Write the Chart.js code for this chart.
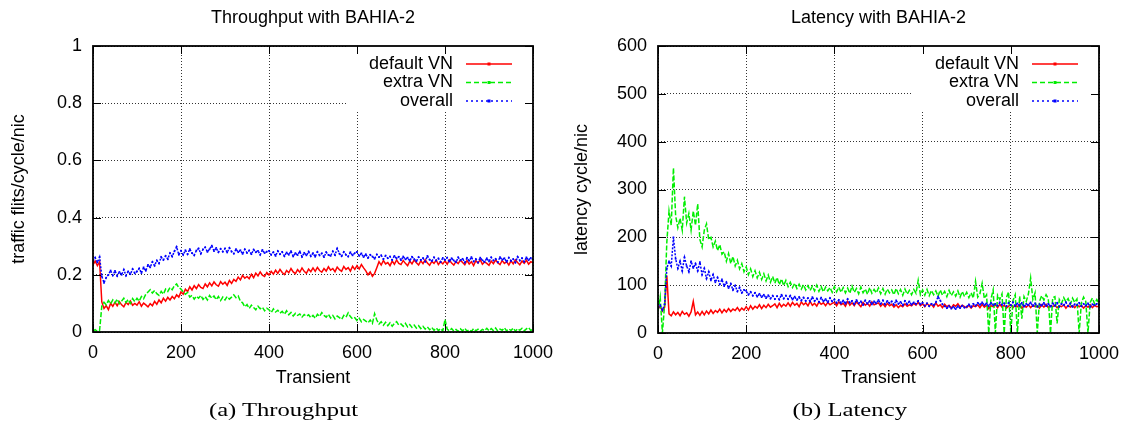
<!DOCTYPE html>
<html><head><meta charset="utf-8">
<script src="https://cdn.jsdelivr.net/npm/chart.js@4.4.1/dist/chart.umd.min.js"></script>
<style>
html,body{margin:0;padding:0;background:#fff;}
#wrap{position:relative;width:1126px;height:423px;overflow:hidden;background:#fff;}
.cv{position:absolute;top:0;width:563px;height:423px;}
.cap{position:absolute;top:401px;font-family:"Liberation Serif","Times New Roman",serif;font-size:18px;line-height:18px;white-space:nowrap;color:#000;transform-origin:center center;}
</style></head><body>
<div id="wrap">
<div class="cv" style="left:0"><canvas id="c1" width="563" height="423"></canvas></div>
<div class="cv" style="left:563px"><canvas id="c2" width="563" height="423"></canvas></div>
<div class="cap" id="cap1">(a) Throughput</div>
<div class="cap" id="cap2">(b) Latency</div>
</div>
<script>
// ---------------- data ----------------
const transientX = [0,5,10,15,20,25,30,35,40,45,50,55,60,65,70,75,80,85,90,95,
100,105,110,115,120,125,130,135,140,145,150,155,160,165,170,175,180,185,190,195,
200,205,210,215,220,225,230,235,240,245,250,255,260,265,270,275,280,285,290,295,
300,305,310,315,320,325,330,335,340,345,350,355,360,365,370,375,380,385,390,395,
400,405,410,415,420,425,430,435,440,445,450,455,460,465,470,475,480,485,490,495,
500,505,510,515,520,525,530,535,540,545,550,555,560,565,570,575,580,585,590,595,
600,605,610,615,620,625,630,635,640,645,650,655,660,665,670,675,680,685,690,695,
700,705,710,715,720,725,730,735,740,745,750,755,760,765,770,775,780,785,790,795,
800,805,810,815,820,825,830,835,840,845,850,855,860,865,870,875,880,885,890,895,
900,905,910,915,920,925,930,935,940,945,950,955,960,965,970,975,980,985,990,995,1000];

const transientTicks = [0,200,400,600,800,1000];
const transientTickLabels = ['0','200','400','600','800','1000'];
const throughputTicks = [0,0.2,0.4,0.6,0.8,1];
const throughputTickLabels = ['0','0.2','0.4','0.6','0.8','1'];
const latencyTicks = [0,100,200,300,400,500,600];
const latencyTickLabels = ['0','100','200','300','400','500','600'];

const seriesLabels = ['default VN','extra VN','overall'];

const throughputDefault = [
0.235,0.248,0.232,0.245,0.105,0.082,0.092,0.078,0.1,0.09,0.104,0.092,0.106,0.095,0.088,0.103,0.096,0.108,0.093,0.1,
0.094,0.106,0.09,0.101,0.095,0.088,0.099,0.092,0.107,0.097,0.112,0.102,0.118,0.108,0.121,0.112,0.124,0.116,0.13,0.122,
0.14,0.132,0.15,0.141,0.158,0.147,0.162,0.152,0.166,0.156,0.152,0.168,0.158,0.172,0.161,0.175,0.165,0.16,0.176,0.167,
0.174,0.163,0.18,0.17,0.184,0.177,0.192,0.182,0.198,0.188,0.194,0.186,0.202,0.19,0.206,0.196,0.21,0.199,0.194,0.208,
0.199,0.212,0.202,0.216,0.205,0.219,0.208,0.201,0.215,0.207,0.222,0.21,0.204,0.218,0.209,0.224,0.212,0.205,0.22,0.211,
0.224,0.212,0.226,0.215,0.209,0.222,0.213,0.228,0.216,0.222,0.211,0.227,0.218,0.212,0.229,0.219,0.225,0.213,0.23,0.219,
0.232,0.22,0.236,0.224,0.214,0.2,0.21,0.195,0.205,0.225,0.246,0.234,0.25,0.238,0.243,0.232,0.248,0.237,0.252,0.24,
0.236,0.25,0.24,0.232,0.248,0.238,0.252,0.242,0.234,0.249,0.239,0.253,0.241,0.233,0.247,0.24,0.251,0.236,0.246,0.238,
0.249,0.237,0.252,0.241,0.234,0.247,0.239,0.251,0.243,0.235,0.25,0.238,0.246,0.232,0.249,0.241,0.253,0.237,0.245,0.24,
0.233,0.248,0.239,0.252,0.242,0.236,0.25,0.24,0.246,0.234,0.249,0.238,0.252,0.243,0.235,0.248,0.24,0.251,0.237,0.246,
0.242];

const throughputExtra = [
0.004,0.008,0.002,0.006,0.09,0.104,0.095,0.11,0.098,0.112,0.101,0.115,0.099,0.108,0.118,0.103,0.114,0.1,0.117,0.106,
0.118,0.108,0.124,0.116,0.132,0.14,0.148,0.136,0.145,0.134,0.128,0.142,0.132,0.15,0.142,0.156,0.148,0.162,0.168,0.155,
0.15,0.14,0.132,0.138,0.122,0.128,0.115,0.125,0.118,0.128,0.114,0.124,0.112,0.128,0.118,0.126,0.113,0.124,0.11,0.122,
0.112,0.124,0.115,0.122,0.13,0.12,0.126,0.108,0.102,0.088,0.096,0.082,0.094,0.086,0.078,0.09,0.081,0.087,0.074,0.083,
0.078,0.068,0.081,0.07,0.076,0.066,0.072,0.062,0.074,0.06,0.068,0.056,0.065,0.058,0.063,0.052,0.061,0.055,0.06,0.05,
0.058,0.048,0.062,0.054,0.068,0.058,0.052,0.062,0.049,0.058,0.046,0.056,0.05,0.044,0.058,0.052,0.067,0.054,0.046,0.05,
0.04,0.048,0.036,0.044,0.038,0.032,0.042,0.03,0.064,0.042,0.028,0.036,0.024,0.034,0.022,0.032,0.02,0.03,0.036,0.024,
0.028,0.02,0.03,0.018,0.026,0.016,0.024,0.014,0.022,0.012,0.02,0.01,0.018,0.008,0.016,0.006,0.014,0.005,0.012,0.004,
0.044,0.01,0.004,0.012,0.003,0.009,0.002,0.011,0.004,0.013,0.003,0.008,0.002,0.012,0.004,0.01,0.002,0.009,0.005,0.013,
0.004,0.012,0.005,0.014,0.003,0.01,0.006,0.015,0.004,0.011,0.005,0.014,0.003,0.012,0.006,0.013,0.004,0.011,0.016,0.005,
0.01];

const throughputOverall = [
0.248,0.26,0.243,0.262,0.195,0.172,0.19,0.2,0.215,0.198,0.214,0.196,0.21,0.2,0.218,0.197,0.212,0.202,0.22,0.205,
0.212,0.222,0.206,0.226,0.214,0.235,0.226,0.245,0.232,0.25,0.24,0.262,0.252,0.266,0.255,0.276,0.264,0.282,0.298,0.27,
0.284,0.27,0.286,0.272,0.29,0.276,0.268,0.285,0.292,0.274,0.289,0.296,0.28,0.29,0.302,0.283,0.294,0.279,0.291,0.281,
0.292,0.278,0.294,0.281,0.274,0.29,0.279,0.286,0.273,0.289,0.277,0.285,0.272,0.288,0.279,0.284,0.27,0.287,0.276,0.281,
0.284,0.27,0.279,0.266,0.283,0.272,0.28,0.265,0.278,0.27,0.283,0.264,0.276,0.269,0.282,0.263,0.277,0.268,0.281,0.265,
0.276,0.263,0.28,0.268,0.275,0.262,0.279,0.27,0.266,0.282,0.269,0.292,0.274,0.265,0.28,0.27,0.264,0.279,0.268,0.276,
0.28,0.266,0.275,0.262,0.272,0.259,0.27,0.264,0.256,0.271,0.262,0.268,0.255,0.267,0.258,0.264,0.252,0.266,0.257,0.263,
0.251,0.264,0.254,0.26,0.249,0.263,0.255,0.247,0.262,0.252,0.258,0.246,0.266,0.253,0.248,0.261,0.25,0.257,0.245,0.259,
0.252,0.26,0.246,0.258,0.25,0.244,0.261,0.251,0.256,0.243,0.259,0.249,0.262,0.247,0.255,0.243,0.26,0.251,0.245,0.258,
0.247,0.261,0.25,0.256,0.244,0.262,0.252,0.258,0.245,0.26,0.249,0.255,0.243,0.263,0.25,0.258,0.246,0.261,0.251,0.259,
0.253];

const latencyDefault = [
50,56,46,54,120,40,36,44,38,43,36,45,39,42,35,44,66,38,44,37,
45,38,46,40,48,41,47,43,50,42,49,44,51,45,50,47,53,46,52,48,
55,48,57,50,56,52,59,51,58,53,60,54,57,61,53,62,55,60,56,63,
56,64,58,62,55,65,59,63,57,66,58,62,56,65,60,63,57,64,59,62,
64,57,65,59,62,56,66,58,63,57,65,60,55,64,58,62,56,65,59,61,
63,56,61,55,62,57,60,54,59,53,58,55,61,56,59,57,62,58,64,57,
61,55,62,57,60,54,63,56,59,53,60,55,58,52,59,56,61,54,58,55,
53,58,52,57,55,59,53,60,54,58,51,57,55,59,53,60,54,58,52,56,
59,53,58,55,60,52,57,54,59,53,58,55,57,52,59,54,60,53,57,55,
58,53,57,55,59,52,58,54,57,53,59,55,58,52,57,54,59,53,58,55,
56];

const latencyExtra = [
45,75,0,60,190,255,225,345,245,220,240,215,285,230,250,215,255,225,270,195,
180,215,228,195,200,180,192,172,185,165,170,150,166,145,160,140,152,134,145,128,
138,122,134,118,130,115,127,112,124,109,121,106,118,104,116,101,113,99,110,97,
106,95,104,93,102,92,101,90,99,89,98,88,100,87,97,86,96,88,95,85,
97,86,96,85,95,84,94,83,98,85,93,82,96,84,92,81,95,83,91,84,
94,82,93,81,92,84,90,80,93,82,91,79,92,81,89,80,91,83,110,80,
90,79,91,78,89,80,88,77,90,79,87,76,89,78,86,77,88,75,87,76,
85,74,84,73,108,75,82,104,72,80,0,71,90,0,79,70,82,0,74,86,
0,68,80,0,77,30,76,66,82,115,70,84,0,66,78,69,80,72,0,74,
76,20,70,62,74,65,72,60,73,64,71,0,63,75,66,0,64,73,61,70,
62];

const latencyOverall = [
52,58,48,60,135,150,140,200,155,135,150,130,158,140,128,150,136,145,130,148,
122,135,114,128,110,122,106,116,102,112,98,106,94,103,90,99,87,95,84,90,
88,80,86,78,84,76,82,75,80,73,79,72,78,71,77,70,80,72,78,71,
78,70,76,69,75,68,74,67,73,66,75,67,72,65,74,66,71,64,73,66,
70,63,69,62,68,61,71,63,67,60,69,62,66,59,68,61,67,60,66,62,
69,61,68,60,67,62,66,59,68,61,65,58,67,60,66,59,64,61,67,60,
63,57,62,56,61,58,64,76,68,60,56,52,57,51,55,50,56,52,57,53,
55,60,54,61,57,63,59,64,58,62,56,63,58,61,57,64,59,62,56,63,
58,64,56,62,57,63,55,61,58,64,56,62,55,60,57,63,56,61,55,62,
57,63,55,61,58,64,56,62,55,60,58,63,56,61,57,62,55,60,58,61,
59];

// ---------------- styling ----------------
const FONT = '"Liberation Sans", Arial, Helvetica, sans-serif';
const FS = 18;
Chart.defaults.font.family = FONT;
Chart.defaults.font.size = FS;
Chart.defaults.color = '#000';

const seriesStyle = [
  {color:'#ff0000', width:1.5, dash:[], pointRadius:0, order:3},
  {color:'#00ee00', width:1.5, dash:[5,2], pointRadius:0, order:2},
  {color:'#0000ff', width:1.5, dash:[2,1.5], pointRadius:1.2, order:1}
];

const gnuFrame = {
  id: 'gnuFrame',
  beforeDatasetsDraw(chart) {
    const a = chart.chartArea, ctx = chart.ctx;
    ctx.save();
    ctx.fillStyle = '#fff';
    ctx.fillRect(a.right - 187, a.top, 187, 64);
    ctx.restore();
  },
  afterDatasetsDraw(chart) {
    const a = chart.chartArea, ctx = chart.ctx;
    const xs = chart.scales.x, ys = chart.scales.y;
    ctx.save();
    ctx.strokeStyle = '#000';
    ctx.lineWidth = 1;
    ctx.setLineDash([]);
    ctx.beginPath();
    xs.ticks.forEach(t => {
      const p = Math.round(xs.getPixelForValue(t.value)) + 0.5;
      ctx.moveTo(p, a.bottom); ctx.lineTo(p, a.bottom - 8);
      ctx.moveTo(p, a.top); ctx.lineTo(p, a.top + 8);
    });
    ys.ticks.forEach(t => {
      const p = Math.round(ys.getPixelForValue(t.value)) + 0.5;
      ctx.moveTo(a.left, p); ctx.lineTo(a.left + 8, p);
      ctx.moveTo(a.right, p); ctx.lineTo(a.right - 8, p);
    });
    ctx.stroke();
    ctx.lineWidth = 1.8;
    ctx.strokeRect(a.left, a.top, a.right - a.left, a.bottom - a.top);
    // key
    ctx.font = FS + 'px ' + FONT;
    ctx.textAlign = 'right';
    ctx.textBaseline = 'middle';
    chart.data.datasets.forEach((ds, i) => {
      const y = a.top + 18 + i * 18.5;
      ctx.fillStyle = '#000';
      ctx.fillText(ds.label, a.right - 80, y);
      ctx.strokeStyle = ds.borderColor;
      ctx.lineWidth = 1.4;
      ctx.setLineDash(i === 0 ? [] : (i === 1 ? [5, 3] : [2, 3]));
      ctx.beginPath();
      ctx.moveTo(a.right - 67, y); ctx.lineTo(a.right - 21, y);
      ctx.stroke();
      ctx.setLineDash([]);
      ctx.fillStyle = ds.borderColor;
      ctx.fillRect(a.right - 45.5, y - 1.5, 3, 3);
    });
    ctx.restore();
  }
};

function makeChart(id, cfg) {
  const values = cfg.values;
  return new Chart(document.getElementById(id), {
    type: 'line',
    plugins: [gnuFrame],
    data: {
      datasets: seriesLabels.map((lab, i) => ({
        label: lab,
        data: transientX.map((x, j) => ({x: x, y: values[i][j]})),
        borderColor: seriesStyle[i].color,
        backgroundColor: seriesStyle[i].color,
        borderWidth: seriesStyle[i].width,
        borderDash: seriesStyle[i].dash,
        pointRadius: seriesStyle[i].pointRadius,
        pointStyle: 'rect',
        pointBorderWidth: 0,
        pointBackgroundColor: seriesStyle[i].color,
        tension: 0,
        fill: false,
        order: seriesStyle[i].order
      }))
    },
    options: {
      responsive: false,
      animation: false,
      events: [],
      layout: {padding: {left: 0, right: cfg.padRight, top: 0, bottom: 0}},
      plugins: {
        legend: {display: false},
        tooltip: {enabled: false},
        title: {
          display: true, text: cfg.title, fullSize: false,
          font: {size: FS, weight: 'normal', lineHeight: 1.2},
          color: '#000',
          padding: {top: 7.7, bottom: 16.7}
        }
      },
      scales: {
        x: {
          type: 'linear', min: 0, max: 1000,
          afterBuildTicks: s => { s.ticks = transientTicks.map(v => ({value: v})); },
          afterFit: s => { s.height = cfg.xHeight; s.paddingLeft = 0; s.paddingRight = 0; },
          ticks: {padding: 10, maxRotation: 0, autoSkip: false,
                  callback: (v, i) => transientTickLabels[i]},
          grid: {color: 'rgba(0,0,0,0.8)', lineWidth: 1, drawTicks: false},
          border: {display: false, dash: [1, 2]},
          title: {display: true, text: 'Transient', font: {size: FS, lineHeight: 1.2},
                  padding: {top: 0, bottom: 33.7}}
        },
        y: {
          type: 'linear', min: 0, max: cfg.yMax,
          afterBuildTicks: s => { s.ticks = cfg.yTicks.map(v => ({value: v})); },
          afterFit: s => { s.width = cfg.yWidth; s.paddingTop = 0; s.paddingBottom = 0; },
          ticks: {padding: 11, autoSkip: false, callback: (v, i) => cfg.yLabels[i]},
          grid: {color: 'rgba(0,0,0,0.8)', lineWidth: 1, drawTicks: false},
          border: {display: false, dash: [1, 2]},
          title: {display: true, text: cfg.yTitle, font: {size: FS, lineHeight: 1.2},
                  padding: {top: 8.7, bottom: 0}}
        }
      }
    }
  });
}

makeChart('c1', {
  title: 'Throughput with BAHIA-2',
  yTitle: 'traffic flits/cycle/nic',
  values: [throughputDefault, throughputExtra, throughputOverall],
  yMax: 1, yTicks: throughputTicks, yLabels: throughputTickLabels,
  yWidth: 93, xHeight: 91, padRight: 30
});
makeChart('c2', {
  title: 'Latency with BAHIA-2',
  yTitle: 'latency cycle/nic',
  values: [latencyDefault, latencyExtra, latencyOverall],
  yMax: 600, yTicks: latencyTicks, yLabels: latencyTickLabels,
  yWidth: 95, xHeight: 90, padRight: 27
});

function placeCaption(id, cx, targetW) {
  const el = document.getElementById(id);
  const w = el.offsetWidth;
  el.style.left = (cx - w / 2) + 'px';
  el.style.transform = 'scaleX(' + (targetW / w) + ')';
}
placeCaption('cap1', 283, 149);
placeCaption('cap2', 849, 114);
</script>
</body></html>
